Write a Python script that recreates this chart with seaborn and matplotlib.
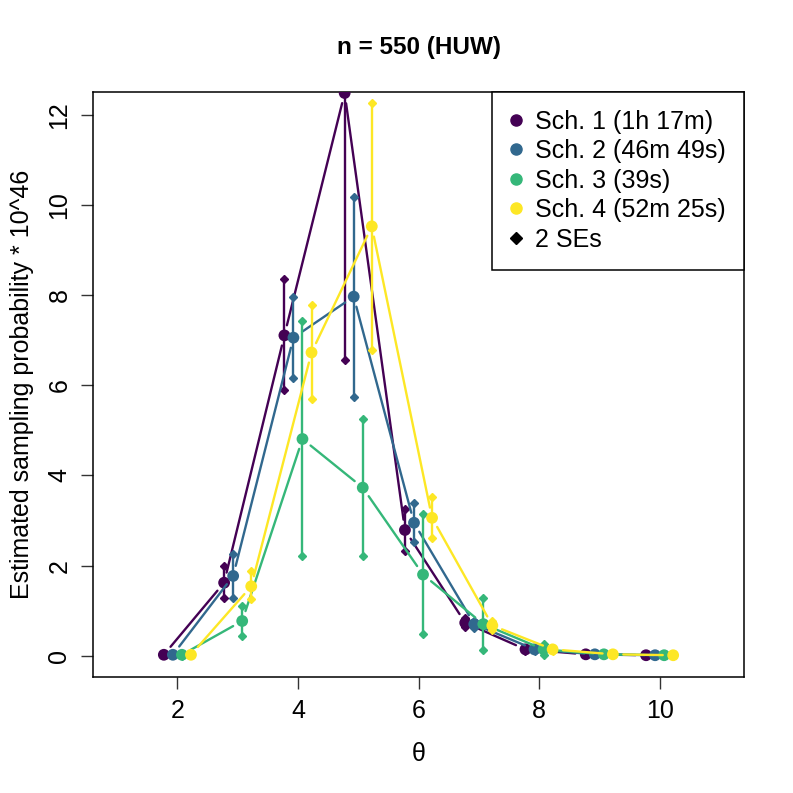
import numpy as np
import pandas as pd
import matplotlib
matplotlib.use("Agg")
import matplotlib.pyplot as plt
import seaborn as sns
from matplotlib.lines import Line2D

# -----------------------------
# DATA
# -----------------------------
theta = [2, 3, 4, 5, 6, 7, 8, 9, 10]
offsets = [-0.225, -0.075, 0.075, 0.225]
labels = ["Sch. 1 (1h 17m)", "Sch. 2 (46m 49s)", "Sch. 3 (39s)", "Sch. 4 (52m 25s)"]
colors = ["#440154", "#31688E", "#35B779", "#FDE725"]

est1 = [0.02, 1.62, 7.11, 12.49, 2.79, 0.73, 0.14, 0.03, 0.01]
lo1 = [0.01, 1.27, 5.89, 6.56, 2.33, 0.63, 0.11, 0.02, 0.00]
hi1 = [0.03, 1.99, 8.36, 18.42, 3.26, 0.83, 0.17, 0.04, 0.02]

est2 = [0.02, 1.77, 7.06, 7.97, 2.95, 0.70, 0.14, 0.03, 0.01]
lo2 = [0.01, 1.28, 6.16, 5.75, 2.53, 0.62, 0.11, 0.02, 0.00]
hi2 = [0.03, 2.26, 7.97, 10.18, 3.38, 0.78, 0.17, 0.04, 0.02]

est3 = [0.02, 0.77, 4.81, 3.73, 1.80, 0.70, 0.14, 0.03, 0.01]
lo3 = [0.00, 0.44, 2.21, 2.21, 0.48, 0.13, 0.02, 0.01, 0.00]
hi3 = [0.04, 1.11, 7.43, 5.25, 3.15, 1.27, 0.26, 0.05, 0.02]

est4 = [0.02, 1.54, 6.73, 9.53, 3.06, 0.67, 0.14, 0.03, 0.01]
lo4 = [0.01, 1.25, 5.69, 6.78, 2.61, 0.56, 0.11, 0.02, 0.00]
hi4 = [0.03, 1.89, 7.79, 12.27, 3.53, 0.78, 0.17, 0.04, 0.02]

ests = [est1, est2, est3, est4]
los = [lo1, lo2, lo3, lo4]
his = [hi1, hi2, hi3, hi4]

rows = []
for k in range(4):
    for i, t in enumerate(theta):
        rows.append({"x": t + offsets[k], "est": ests[k][i], "lo": los[k][i],
                     "hi": his[k][i], "sch": labels[k]})
df = pd.DataFrame(rows)

# -----------------------------
# PLOT SETUP
# -----------------------------
sns.set_style("ticks")
plt.rcParams["font.family"] = ["Liberation Sans", "DejaVu Sans"]
plt.rcParams["text.color"] = "black"
plt.rcParams["axes.labelcolor"] = "black"
plt.rcParams["xtick.color"] = "black"
plt.rcParams["ytick.color"] = "black"

fig = plt.figure(figsize=(7.93, 7.93), dpi=100)
ax = fig.add_axes([0.1173, 0.1459, 0.8209, 0.7385])
ax.set_xlim(0.6, 11.4)
ax.set_ylim(-0.48, 12.52)

LW = 1.7
for k, lab in enumerate(labels):
    d = df[df["sch"] == lab]
    c = colors[k]
    z = 3 + k
    # lines with gaps around the points (R type = "b")
    xs, ys = d["x"].values, d["est"].values
    for i in range(len(xs) - 1):
        ax.annotate("", xy=(xs[i + 1], ys[i + 1]), xytext=(xs[i], ys[i]),
                    arrowprops=dict(arrowstyle="-", color=c, lw=LW,
                                    shrinkA=7.5, shrinkB=7.5),
                    zorder=z, annotation_clip=False)
    # 2 SE bars
    ax.vlines(d["x"], d["lo"], d["hi"], color=c, lw=LW, zorder=z)
    ax.plot(d["x"], d["lo"], ls="none", marker="D", ms=4.2, color=c, zorder=z)
    ax.plot(d["x"], d["hi"], ls="none", marker="D", ms=4.2, color=c, zorder=z)
    sns.scatterplot(data=d, x="x", y="est", color=c, s=72, edgecolor="none",
                    ax=ax, zorder=z + 0.5, legend=False)

# -----------------------------
# AXES & TITLES
# -----------------------------
ax.set_xticks([2, 4, 6, 8, 10])
ax.set_yticks([0, 2, 4, 6, 8, 10, 12])
ax.tick_params(axis="both", labelsize=18, length=8.5, width=1, pad=7,
               color="#333333", labelcolor="black")
for lbl in ax.get_yticklabels():
    lbl.set_rotation(90)
    lbl.set_va("center")
for sp in ax.spines.values():
    sp.set_color("black")
    sp.set_linewidth(1.1)

ax.set_xlabel("θ", fontsize=18, labelpad=14, color="black")
ax.set_ylabel("Estimated sampling probability * 10^46", fontsize=18,
              labelpad=10, color="black")
ax.set_title("n = 550 (HUW)", fontsize=17.5, weight="bold", pad=27,
             color="black")

handles = [Line2D([], [], ls="none", marker="o", ms=8, color=c) for c in colors]
handles.append(Line2D([], [], ls="none", marker="D", ms=6, color="black"))
leg = ax.legend(handles, labels + ["2 SEs"], loc="upper right", fontsize=18,
                frameon=True, fancybox=False, edgecolor="black", framealpha=1,
                borderaxespad=0, handlelength=0.45, handletextpad=0.55,
                labelspacing=0.22, borderpad=0.72)
leg.get_frame().set_linewidth(1.1)
for t in leg.get_texts():
    t.set_color("black")

plt.savefig("out.png", dpi=100)
plt.close()
